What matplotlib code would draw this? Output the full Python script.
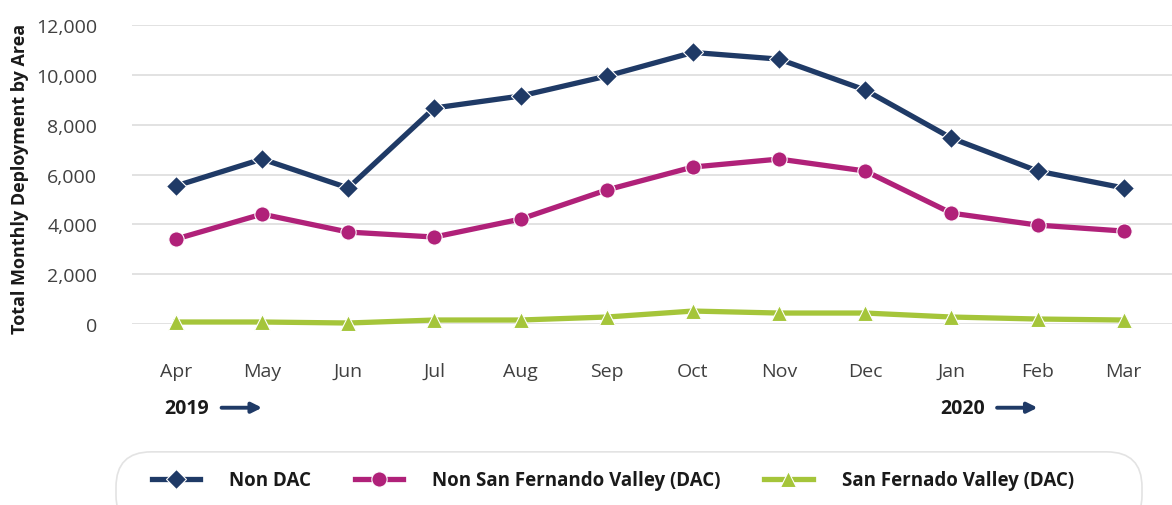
import matplotlib.pyplot as plt
from matplotlib.patches import FancyBboxPatch
from matplotlib.ticker import FuncFormatter

plt.rcParams['font.family'] = ['Open Sans', 'DejaVu Sans']

# Данные по месяцам
months = ['Apr', 'May', 'Jun', 'Jul', 'Aug', 'Sep', 'Oct', 'Nov', 'Dec', 'Jan', 'Feb', 'Mar']
non_dac = [5540, 6620, 5460, 8670, 9150, 9950, 10900, 10630, 9390, 7460, 6140, 5460]
non_sfv = [3410, 4410, 3690, 3490, 4210, 5380, 6300, 6620, 6140, 4450, 3970, 3730]
sfv = [80, 80, 40, 160, 160, 280, 520, 440, 440, 280, 200, 160]
series_names = ['Non DAC', 'Non San Fernando Valley (DAC)', 'San Fernado Valley (DAC)']
years = ['2019', '2020']

navy = '#1f3a66'
magenta = '#b02179'
green = '#a5c53a'

fig = plt.figure(figsize=(11.72, 5.06), dpi=100)
ax = fig.add_axes([0.1126, 0.3577, 0.8874, 0.5909])

x = list(range(len(months)))
ax.plot(x, non_dac, color=navy, lw=3.8, marker='D', ms=10, mec='white', mew=0.8,
        label=series_names[0], clip_on=False, zorder=5)
ax.plot(x, non_sfv, color=magenta, lw=3.8, marker='o', ms=11, mec='white', mew=0.8,
        label=series_names[1], clip_on=False, zorder=4)
ax.plot(x, sfv, color=green, lw=3.8, marker='^', ms=12, mec='white', mew=0.8,
        label=series_names[2], clip_on=False, zorder=3)

ax.set_xlim(-0.51, 11.56)
ax.set_ylim(0, 12000)
ax.set_yticks(range(0, 12001, 2000))
ax.yaxis.set_major_formatter(FuncFormatter(lambda v, p: f'{int(v):,}'))
ax.set_xticks(x)
ax.set_xticklabels(months)
ax.tick_params(axis='y', length=0, pad=25, labelsize=14, labelcolor='#404040')
ax.tick_params(axis='x', length=0, pad=27, labelsize=14, labelcolor='#404040')
ax.grid(axis='y', color='#e2e2e2', lw=1.4)
ax.set_axisbelow(True)
for s in ax.spines.values():
    s.set_visible(False)

ax.set_ylabel('Total Monthly Deployment by Area', fontsize=13, fontweight='bold', color='#1a1a1a')
ax.yaxis.set_label_coords(-0.099, 0.49)

# Подписи годов со стрелками
for yr, xs in zip(years, [0, 9]):
    ax.annotate(yr, xy=(xs - 0.13, -0.28), xycoords=('data', 'axes fraction'),
                ha='left', va='center', fontsize=14, fontweight='bold', color='#1a1a1a')
    ax.annotate('', xy=(xs + 1.0, -0.28), xytext=(xs + 0.53, -0.28),
                xycoords=('data', 'axes fraction'), textcoords=('data', 'axes fraction'),
                arrowprops=dict(arrowstyle='-|>,head_length=0.6,head_width=0.3',
                                color=navy, lw=2.8, shrinkA=0, shrinkB=0))

# Рамка легенды
box = FancyBboxPatch((116 / 1172, -0.05), 1026 / 1172, 0.155,
                     boxstyle='round,pad=0,rounding_size=0.03', transform=fig.transFigure,
                     fc='white', ec='#e3e3e3', lw=1.2, mutation_aspect=1172 / 506)
fig.patches.append(box)

leg = fig.legend(loc='center left', bbox_to_anchor=(0.115, 0.049), ncol=3, frameon=False,
                 handlelength=2.6, handletextpad=1.55, columnspacing=2.3,
                 prop={'size': 13.5, 'weight': 'bold'})
for t in leg.get_texts():
    t.set_color('#1a1a1a')

fig.savefig('out.png', dpi=100)
